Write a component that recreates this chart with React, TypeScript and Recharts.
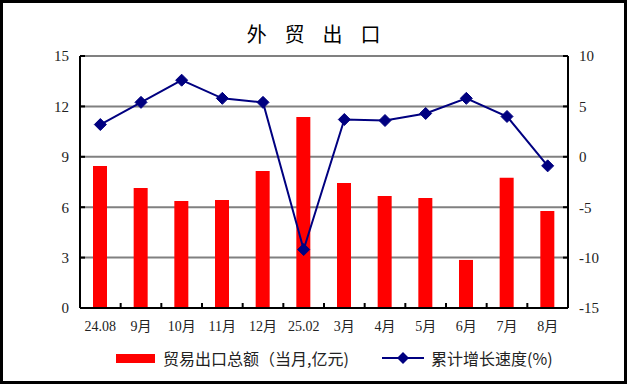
import React from "react";
import { ComposedChart, Bar, Line, XAxis, YAxis, CartesianGrid } from "recharts";

const categories = ["24.08", "9月", "10月", "11月", "12月", "25.02", "3月", "4月", "5月", "6月", "7月", "8月"];
const exportValues = [8.45, 7.14, 6.37, 6.43, 8.15, 11.37, 7.44, 6.67, 6.55, 2.86, 7.76, 5.77];
const growthValues = [3.2, 5.4, 7.6, 5.8, 5.4, -9.2, 3.7, 3.6, 4.3, 5.8, 4.0, -0.9];
const leftTicks = [0, 3, 6, 9, 12, 15];
const rightTicks = [-15, -10, -5, 0, 5, 10];

const TITLE = "外 贸 出 口";
const BAR_NAME = "贸易出口总额（当月,亿元)";
const LINE_NAME = "累计增长速度(%)";

const data = categories.map((c, i) => ({ cat: c, exp: exportValues[i], growth: growthValues[i] }));

const W = 627;
const H = 384;
const LEFT_W = 80;
const RIGHT_W = 59;
const TOP = 56;
const XAXIS_H = 30;
const BOTTOM = 46;
const PLOT_W = W - LEFT_W - RIGHT_W;
const PLOT_BOTTOM = H - BOTTOM - XAXIS_H;
const BAR_COLOR = "#ff0000";
const LINE_COLOR = "#000080";
const SERIF = "'Times New Roman', 'Liberation Serif', 'Noto Sans CJK SC', serif";
const CJK = "'Noto Sans CJK SC', 'Liberation Serif', sans-serif";

const XTick = (props: any) => {
  const { x, payload, index } = props;
  const band = PLOT_W / categories.length;
  const left = x - band / 2;
  return (
    <g>
      <line x1={left} x2={left} y1={PLOT_BOTTOM} y2={PLOT_BOTTOM - 5} stroke="#000" strokeWidth={2} />
      {index === categories.length - 1 && (
        <line x1={x + band / 2} x2={x + band / 2} y1={PLOT_BOTTOM} y2={PLOT_BOTTOM - 5} stroke="#000" strokeWidth={2} />
      )}
      <text x={x} y={PLOT_BOTTOM + 23} textAnchor="middle" fontSize={14} fontFamily={SERIF} fill="#222">
        {payload.value}
      </text>
    </g>
  );
};

const Diamond = (props: any) => {
  const { cx, cy, index } = props;
  if (cx == null || cy == null) return null;
  const r = 6;
  return (
    <polygon
      key={`d${index}`}
      points={`${cx},${cy - r} ${cx + r},${cy} ${cx},${cy + r} ${cx - r},${cy}`}
      fill={LINE_COLOR}
      stroke={LINE_COLOR}
    />
  );
};

export default function App() {
  return (
    <div style={{ position: "absolute", left: 0, top: 0, width: W, height: H, background: "#fff" }}>
      <div
        style={{
          position: "absolute",
          left: 0,
          top: 21,
          width: W,
          textAlign: "center",
          fontFamily: CJK,
          fontSize: 20,
          lineHeight: "26px",
          letterSpacing: "6.75px",
          paddingLeft: 7,
          boxSizing: "border-box",
          color: "#000",
        }}
      >
        {TITLE}
      </div>
      <div style={{ position: "absolute", left: 0, top: 0 }}>
        <ComposedChart
          width={W}
          height={H}
          data={data}
          margin={{ top: TOP, right: 0, left: 0, bottom: BOTTOM }}
          barCategoryGap={0}
        >
          <CartesianGrid yAxisId="left" horizontal vertical={false} stroke="#808080" strokeWidth={2} />
          <XAxis
            dataKey="cat"
            height={XAXIS_H}
            axisLine={{ stroke: "#000", strokeWidth: 2 }}
            tickLine={false}
            tick={<XTick />}
            interval={0}
          />
          <YAxis
            yAxisId="left"
            orientation="left"
            width={LEFT_W}
            domain={[0, 15]}
            ticks={leftTicks}
            interval={0}
            axisLine={{ stroke: "#000", strokeWidth: 2 }}
            tickLine={{ stroke: "#000", strokeWidth: 2 }}
            tickSize={-5}
            tickMargin={16}
            tick={{ fontSize: 15, fontFamily: SERIF, fill: "#222" }}
          />
          <YAxis
            yAxisId="right"
            orientation="right"
            width={RIGHT_W}
            domain={[-15, 10]}
            ticks={rightTicks}
            interval={0}
            axisLine={{ stroke: "#000", strokeWidth: 2 }}
            tickLine={{ stroke: "#000", strokeWidth: 2 }}
            tickSize={-5}
            tickMargin={16}
            tick={{ fontSize: 15, fontFamily: SERIF, fill: "#222" }}
          />
          <Bar yAxisId="left" dataKey="exp" fill={BAR_COLOR} barSize={14} isAnimationActive={false} />
          <Line
            yAxisId="right"
            dataKey="growth"
            stroke={LINE_COLOR}
            strokeWidth={2}
            dot={<Diamond />}
            activeDot={false}
            isAnimationActive={false}
          />
        </ComposedChart>
      </div>
      <div style={{ position: "absolute", left: 116, top: 354, width: 39, height: 9, background: BAR_COLOR }} />
      <div
        style={{
          position: "absolute",
          left: 163,
          top: 347,
          fontFamily: CJK,
          fontSize: 16,
          lineHeight: "22px",
          color: "#222",
          whiteSpace: "nowrap",
        }}
      >
        {BAR_NAME}
      </div>
      <svg style={{ position: "absolute", left: 382, top: 350 }} width={42} height={16}>
        <line x1={0} x2={42} y1={8} y2={8} stroke={LINE_COLOR} strokeWidth={2} />
        <polygon points="21,2 27,8 21,14 15,8" fill={LINE_COLOR} />
      </svg>
      <div
        style={{
          position: "absolute",
          left: 431,
          top: 347,
          fontFamily: CJK,
          fontSize: 16,
          lineHeight: "22px",
          color: "#222",
          whiteSpace: "nowrap",
        }}
      >
        {LINE_NAME}
      </div>
      <div
        style={{
          position: "absolute",
          left: 0,
          top: 0,
          width: W,
          height: H,
          border: "3px solid #000",
          boxSizing: "border-box",
          pointerEvents: "none",
        }}
      />
    </div>
  );
}
